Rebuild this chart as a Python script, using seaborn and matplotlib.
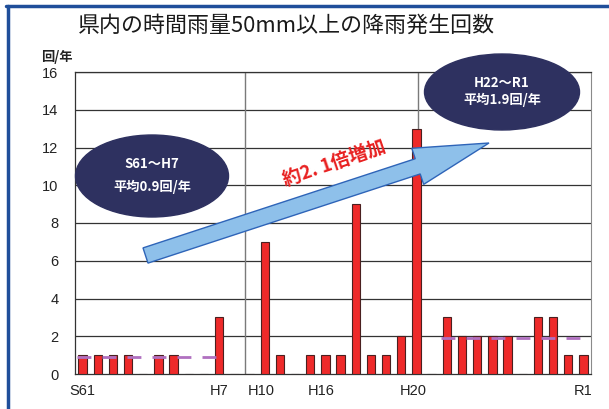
import matplotlib
matplotlib.use("Agg")
import matplotlib.pyplot as plt
import matplotlib.patches as mpatches
import numpy as np
import pandas as pd
import seaborn as sns

# ---- data ----
years = ["S61", "S62", "S63"] + [f"H{i}" for i in range(1, 31)] + ["R1"]
counts = [1, 1, 1, 1, 0, 1, 1, 0, 0, 3,
          0, 0, 7, 1, 0, 1, 1, 1, 9, 1,
          1, 2, 13, 0, 3, 2, 2, 2, 2, 0,
          3, 3, 1, 1]
tick_labels = ["S61", "H7", "H10", "H16", "H20", "R1"]
tick_pos = [0, 9, 11.8, 15.7, 21.8, 33]
avg_early = 0.9   # S61~H7
avg_late = 1.9    # H22~R1
title = "県内の時間雨量50mm以上の降雨発生回数"

sns.set_style("white")
plt.rcParams["font.family"] = ["Noto Sans CJK JP", "DejaVu Sans"]

W, H = 609, 409
fig = plt.figure(figsize=(W / 100, H / 100), dpi=100)
ax = fig.add_axes([75 / W, 1 - 374 / H, (591 - 75) / W, (374 - 72) / H])

df = pd.DataFrame({"year": years, "count": counts})
sns.barplot(data=df, x="year", y="count", order=years, color="#EE2A2A",
            saturation=1, width=0.55, edgecolor="#4a2020", linewidth=0.8,
            ax=ax, zorder=3)

ax.set_xlim(-0.5, 33.5)
ax.set_ylim(0, 16)
ax.set_yticks(range(0, 17, 2))
ax.set_xticks(tick_pos)
ax.set_xticklabels(tick_labels)
ax.set_xlabel("")
ax.set_ylabel("")
ax.tick_params(axis="both", length=0, labelsize=10.5, colors="#222222")
ax.tick_params(axis="y", pad=12)
ax.tick_params(axis="x", pad=7)
for lab in ax.get_xticklabels() + ax.get_yticklabels():
    lab.set_fontfamily(["Liberation Sans", "DejaVu Sans"])
for y in range(2, 17, 2):
    ax.axhline(y, color="#333333", lw=0.9, zorder=1)
for xv in [10.7, 22.1]:
    ax.axvline(xv, color="#7a7a7a", lw=1.0, zorder=1)
for s in ["left", "bottom", "top"]:
    ax.spines[s].set_color("#333333")
    ax.spines[s].set_linewidth(0.9)
ax.spines["right"].set_color("#8a8a8a")

# averages
ax.plot([-0.35, 9.2], [avg_early, avg_early], color="#B070C0", lw=2,
        dashes=(5, 4), zorder=4)
ax.plot([23.6, 33.1], [avg_late, avg_late], color="#B070C0", lw=2,
        dashes=(5, 4), zorder=4)

# overlay in pixel coordinates
ov = fig.add_axes([0, 0, 1, 1], zorder=5)
ov.set_xlim(0, W)
ov.set_ylim(H, 0)
ov.axis("off")
ov.patch.set_alpha(0)

# border lines
ov.plot([6, W], [6, 6], color="#1F4E9A", lw=2.5)
ov.plot([8, 8], [6, H], color="#1F4E9A", lw=2.5)

ov.text(286, 26, title, fontsize=15.8, ha="center", va="center", color="#1a1a1a")
ov.text(57, 57, "回/年", fontsize=9.5, fontweight="bold", ha="center",
        va="center", color="#222222")

# ellipses
for cx, cy, w, h, l1, l2, y1, y2 in [
        (152, 176, 153, 82, "S61～H7", f"平均{avg_early}回/年", 164, 187),
        (502, 92, 155, 76, "H22～R1", f"平均{avg_late}回/年", 83, 100)]:
    ov.add_patch(mpatches.Ellipse((cx, cy), w, h, facecolor="#2E3160",
                                  edgecolor="#2E3160"))
    ov.text(cx, y1, l1, color="white", fontsize=9.5, fontweight="bold",
            ha="center", va="center")
    ov.text(cx, y2, l2, color="white", fontsize=9.5, fontweight="bold",
            ha="center", va="center")

# arrow
T = np.array([145.5, 255.5])
P = np.array([489.0, 143.0])
u = (P - T) / np.linalg.norm(P - T)
n = np.array([-u[1], u[0]])
hw, hh, hl = 8.0, 19.0, 75.0
B = P - u * hl
pts = [T + n * hw, B + n * hw, B + n * hh, P, B - n * hh, B - n * hw, T - n * hw]
ov.add_patch(mpatches.Polygon(pts, closed=True, facecolor="#8EC0EA",
                              edgecolor="#2E64B8", lw=1.0))
ov.text(334, 163, "約2. 1倍増加", color="#E82020", fontsize=13.5,
        fontweight="bold", ha="center", va="center", rotation=19,
        rotation_mode="anchor")

fig.savefig("out.png", dpi=100)
